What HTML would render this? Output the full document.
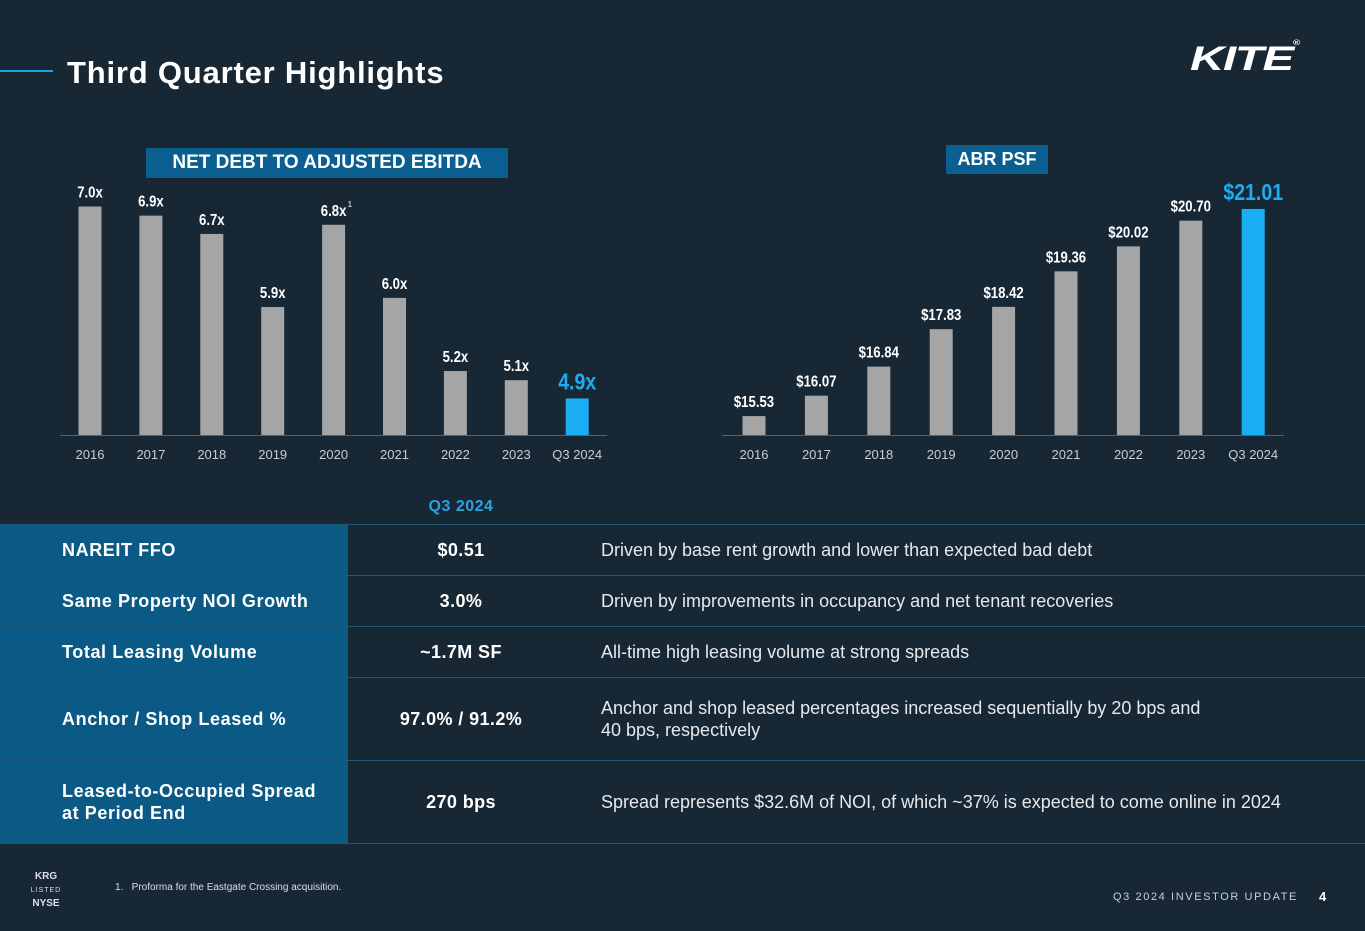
<!DOCTYPE html>
<html><head><meta charset="utf-8"><style>
body{margin:0;width:1365px;height:931px;background:#172734;overflow:hidden;position:relative;font-family:"Liberation Sans",sans-serif;color:#fff}
.abs{position:absolute}
.row{position:absolute;left:0;width:1365px;border-bottom:1px solid #1d5878}
.lc{position:absolute;left:0;width:348px;height:100%;background:#0a5a85;display:flex;align-items:center;padding-left:62px;box-sizing:border-box;font-weight:bold;font-size:18px;letter-spacing:0.6px}
.mc{position:absolute;left:348px;width:226px;height:100%;display:flex;align-items:center;justify-content:center;font-weight:bold;font-size:18px;letter-spacing:0.4px}
.rc{position:absolute;left:601px;height:100%;display:flex;align-items:center;font-size:18px;color:#e6e9ec;line-height:22px}
</style></head><body>
<div class="abs" style="left:0;top:70px;width:53px;height:2px;background:#1ea3e3"></div>
<div class="abs" style="left:67px;top:55px;font-size:31px;font-weight:bold;letter-spacing:0.8px">Third Quarter Highlights</div>
<div class="abs" style="left:1190px;top:40px;font-size:34px;font-weight:900;font-style:italic;letter-spacing:-1px;transform:scaleX(1.4);transform-origin:left">KITE<span style="font-size:7px;vertical-align:top">®</span></div>
<div class="abs" style="left:146px;top:148px;width:362px;height:30px;background:#0b5f90;font-weight:bold;font-size:19px;line-height:30px;text-align:center">NET DEBT TO ADJUSTED EBITDA</div>
<div class="abs" style="left:946px;top:145px;width:102px;height:29px;background:#0b5f90;font-weight:bold;font-size:18px;line-height:29px;text-align:center">ABR PSF</div>
<svg class="abs" style="left:0;top:0" width="1365" height="500" id="charts"></svg>
<div class="abs" style="left:380px;top:498px;width:162px;text-align:center;color:#2aa3e0;font-weight:bold;font-size:16px;letter-spacing:0.5px">Q3 2024</div>
<div class="abs" style="left:0;top:524px;width:1365px;height:1px;background:#1d5878"></div>
<div class="row" style="top:525px;height:50px"><div class="lc">NAREIT FFO</div><div class="mc">$0.51</div><div class="rc">Driven by base rent growth and lower than expected bad debt</div></div>
<div class="row" style="top:576px;height:50px"><div class="lc">Same Property NOI Growth</div><div class="mc">3.0%</div><div class="rc">Driven by improvements in occupancy and net tenant recoveries</div></div>
<div class="row" style="top:627px;height:50px"><div class="lc">Total Leasing Volume</div><div class="mc">~1.7M SF</div><div class="rc">All-time high leasing volume at strong spreads</div></div>
<div class="row" style="top:678px;height:82px"><div class="lc">Anchor / Shop Leased %</div><div class="mc">97.0% / 91.2%</div><div class="rc">Anchor and shop leased percentages increased sequentially by 20 bps and<br>40 bps, respectively</div></div>
<div class="row" style="top:761px;height:82px"><div class="lc" style="line-height:22px">Leased-to-Occupied Spread<br>at Period End</div><div class="mc">270 bps</div><div class="rc">Spread represents $32.6M of NOI, of which ~37% is expected to come online in 2024</div></div>
<div class="abs" style="left:30px;top:870px;width:32px;text-align:center;font-size:10px;font-weight:bold;line-height:13px;color:#dde">KRG<br><span style="font-weight:normal;font-size:7px;letter-spacing:1px">LISTED</span><br>NYSE</div>
<div class="abs" style="left:115px;top:882px;font-size:10px;color:#dde">1.&nbsp;&nbsp;&nbsp;Proforma for the Eastgate Crossing acquisition.</div>
<div class="abs" style="left:1113px;top:891px;font-size:11px;letter-spacing:1.6px;color:#ccd">Q3 2024 INVESTOR UPDATE</div>
<div class="abs" style="left:1319px;top:889px;font-size:13px;font-weight:bold">4</div>
<script>
const cats=["2016","2017","2018","2019","2020","2021","2022","2023","Q3 2024"];
const debtVals=[7.0,6.9,6.7,5.9,6.8,6.0,5.2,5.1,4.9];
const debtLabels=["7.0x","6.9x","6.7x","5.9x","6.8x","6.0x","5.2x","5.1x","4.9x"];
const abrVals=[15.53,16.07,16.84,17.83,18.42,19.36,20.02,20.70,21.01];
const abrLabels=["$15.53","$16.07","$16.84","$17.83","$18.42","$19.36","$20.02","$20.70","$21.01"];
const svg=document.getElementById('charts');const NS="http://www.w3.org/2000/svg";
function mk(t,a){const e=document.createElementNS(NS,t);for(const k in a)e.setAttribute(k,a[k]);svg.appendChild(e);return e;}
function chart(name,vals,labels,x0,step,axL,axR,min,ppu,sup){
 const base=435;const y=v=>base-(v-min)*ppu;
 const ax=mk('line',{x1:axL,x2:axR,y1:base+0.5,y2:base+0.5,stroke:'#56636e','stroke-width':1});
 
 vals.forEach((v,i)=>{const cx=x0+i*step;const last=i===vals.length-1;
  const r=mk('rect',{x:cx-11.5,y:y(v),width:23,height:base-y(v),fill:last?'#1aaef5':'#a5a5a5'});
  
  const t=mk('text',{x:0,y:0,transform:'translate('+cx+','+(y(v)-9)+') scale(0.85,1)','text-anchor':'middle',fill:last?'#1aaef5':'#fff','font-weight':'bold','font-size':last?23:15.5});
  t.textContent=labels[i];
  if(sup===i){const s=mk('text',{x:cx+14,y:y(v)-18,fill:'#fff','font-size':8});s.textContent='1';}
  const c=mk('text',{x:cx,y:459,'text-anchor':'middle',fill:'#c8cdd2','font-size':13});
  c.textContent=cats[i];
 });
}
chart('debt',debtVals,debtLabels,90,60.9,60,607,4.5,91.4,4);
chart('abr',abrVals,abrLabels,754,62.4,722,1284,15.03,37.8,-1);
</script>
</body></html>
